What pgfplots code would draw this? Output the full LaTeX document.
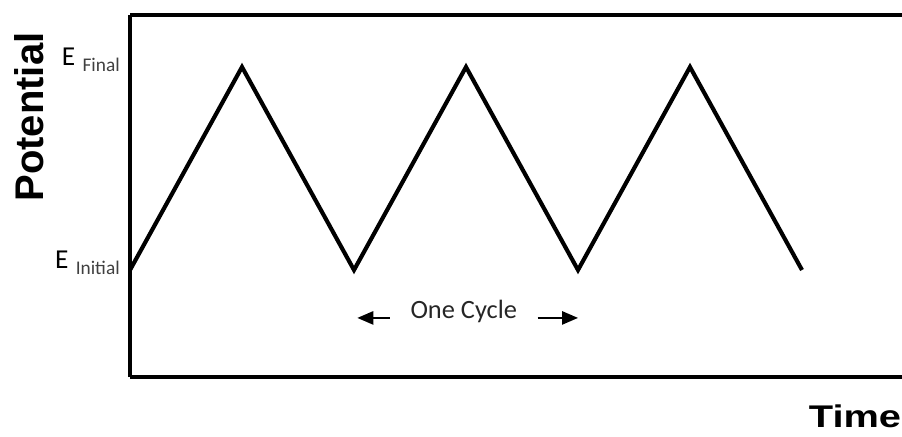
\documentclass[border=0pt]{standalone}
\usepackage{fontspec}
\setmainfont{Carlito}
\newfontfamily\arialfont{Liberation Sans}
\usepackage{pgfplots}
\pgfplotsset{compat=1.18}
\usetikzlibrary{arrows.meta}
\definecolor{subgray}{HTML}{404040}
\begin{document}
\begin{tikzpicture}
\begin{axis}[
  at={(97.5pt,44.25pt)}, anchor=south west,
  x=84pt, y=152.25pt,
  xmin=0, xmax=6.893, ymin=-0.527, ymax=1.256,
  axis x line*=box, axis y line*=left,
  axis line style={line width=2.6pt, -},
  xtick=\empty, ytick={0,1},
  yticklabels={{E\hspace{5.5pt}\raisebox{-4.5pt}{\fontsize{14.5}{15}\selectfont\color{subgray}Initial}},
               {E\hspace{5.5pt}\raisebox{-4.5pt}{\fontsize{14.5}{15}\selectfont\color{subgray}Final}}},
  major tick length=0pt,
  yticklabel style={anchor=base east, inner sep=0pt, xshift=-7.5pt, yshift=1pt,
                    font=\fontsize{20.5}{21}\selectfont},
  clip=false,
]
\addplot[line width=3.1pt, black] coordinates {(0,0) (1,1) (2,0) (3,1) (4,0) (5,1) (6,0)};
\draw[line width=1.3pt, -{Triangle[length=12pt,width=10pt]}] (axis cs:2.32,-0.236) -- (axis cs:2.03,-0.236);
\draw[line width=1.3pt, -{Triangle[length=12pt,width=10pt]}] (axis cs:3.64,-0.236) -- (axis cs:4.0,-0.236);
\node[anchor=base, inner sep=0pt, font=\fontsize{19.8}{24}\selectfont, text=black!85] at (axis cs:2.98,-0.241) {One Cycle};
\end{axis}
\node[rotate=90, inner sep=0pt, font=\arialfont\bfseries\fontsize{30}{32}\selectfont] at (21.75pt,239.25pt) {Potential};
\node[anchor=base east, inner sep=0pt, font=\arialfont\bfseries\fontsize{23.5}{26}\selectfont] at (676pt,6.75pt) {\scalebox{1.27}[1]{Time}};
\pgfresetboundingbox
\useasboundingbox (0,0) rectangle (676.5pt,327pt);
\end{tikzpicture}
\end{document}
